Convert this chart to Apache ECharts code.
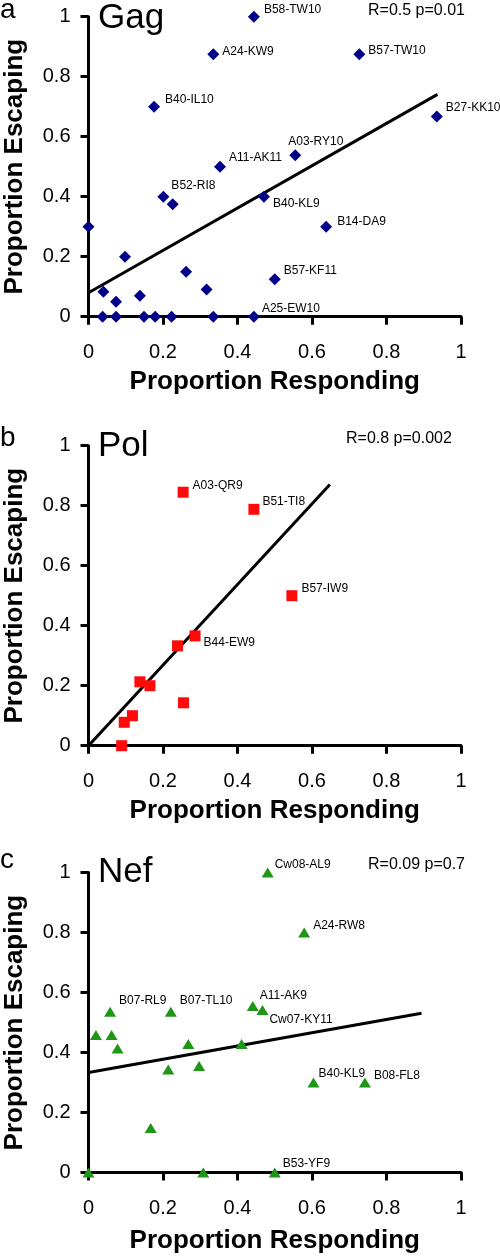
<!DOCTYPE html>
<html><head><meta charset="utf-8">
<script src="https://cdn.jsdelivr.net/npm/echarts@6/dist/echarts.min.js"></script>
<style>html,body{margin:0;padding:0;background:#fff}#c{width:500px;height:1258px}</style>
</head><body><div id="c"></div>
<script>
// ---- data ----
const tickValues = [0, 0.2, 0.4, 0.6, 0.8, 1];
const gagX = [0.444,0.335,0.727,0.176,0.935,0.555,0.353,0.201,0.226,0.471,0.638,0.50,0.444,0,0.098,0.04,0.074,0.138,0.262,0.317,0.038,0.074,0.149,0.179,0.223,0.335];
const gagY = [1.0,0.875,0.875,0.70,0.667,0.538,0.50,0.40,0.375,0.40,0.30,0.125,0,0.30,0.20,0.083,0.05,0.07,0.15,0.091,0,0,0,0,0,0];
const gagNames = ['B58-TW10','A24-KW9','B57-TW10','B40-IL10','B27-KK10','A03-RY10','A11-AK11','B52-RI8','','B40-KL9','B14-DA9','B57-KF11','A25-EW10','','','','','','','','','','','','',''];
const gagFitX = [0, 0.937];
const gagFitY = [0.08, 0.741];
const gagStat = 'R=0.5 p=0.01';

const polX = [0.254,0.444,0.546,0.286,0.239,0.138,0.165,0.255,0.118,0.096,0.089];
const polY = [0.845,0.788,0.50,0.366,0.333,0.213,0.20,0.143,0.10,0.078,0];
const polNames = ['A03-QR9','B51-TI8','B57-IW9','B44-EW9','','','','','','',''];
const polFitX = [0, 0.648];
const polFitY = [0, 0.871];
const polStat = 'R=0.8 p=0.002';

const nefX = [0.481,0.579,0.441,0.467,0.058,0.221,0.604,0.742,0.50,0.02,0.062,0.078,0.268,0.411,0.214,0.297,0.167,0,0.308];
const nefY = [1.0,0.80,0.555,0.542,0.536,0.536,0.30,0.30,0,0.459,0.459,0.414,0.429,0.429,0.344,0.355,0.149,0,0];
const nefNames = ['Cw08-AL9','A24-RW8','A11-AK9','Cw07-KY11','B07-RL9','B07-TL10','B40-KL9','B08-FL8','B53-YF9','','','','','','','','','',''];
const nefFitX = [0, 0.894];
const nefFitY = [0.334, 0.531];
const nefStat = 'R=0.09 p=0.7';

const panelLetters = ['a','b','c'];
const panelTitles = ['Gag','Pol','Nef'];
const xTitle = 'Proportion Responding';
const yTitle = 'Proportion Escaping';

// ---- styling / layout ----
const FONT = 'Liberation Sans, Arial, Helvetica, sans-serif';
const labelOffsets = [
  {'B58-TW10':[1,-7],'A24-KW9':[0,-3],'B57-TW10':[0,-4],'B40-IL10':[2,-7],'B27-KK10':[0,-9],'A03-RY10':[-16,-14],'A11-AK11':[0,-9],'B52-RI8':[-1,-11],'B40-KL9':[0,7],'B14-DA9':[2,-5],'B57-KF11':[0,-9],'A25-EW10':[-1,-8]},
  {'A03-QR9':[1,-7],'B51-TI8':[0,-8],'B57-IW9':[1,-7],'B44-EW9':[0,7]},
  {'Cw08-AL9':[-2,-8],'A24-RW8':[0,-7],'A11-AK9':[-2,-10],'Cw07-KY11':[-2,10],'B07-RL9':[0,-11],'B07-TL10':[0,-11],'B40-KL9':[-4,-9],'B08-FL8':[0,-7],'B53-YF9':[-1,-9]}
];
const grids = [
  {left:88.5, top:16.7, width:372.5, height:300, outerBoundsMode:'none', containLabel:false},
  {left:88.5, top:445.7, width:372.5, height:300, outerBoundsMode:'none', containLabel:false},
  {left:88.5, top:872.6, width:372.5, height:300, outerBoundsMode:'none', containLabel:false}
];
const xNameGaps = [52, 52, 55];
const symbols = ['diamond','rect','triangle'];
const symbolSizes = [[12,12],[11,11],[12,10]];
const colors = ['#000088','#ff0a0a','#1e9616'];
const letterPos = [[0,10],[0,438],[0,860]];
const titlePos = [[98,18],[98,446],[98,872]];
const statPos = [[368,11],[346,439],[368,865]];

const panels = [
  {x:gagX,y:gagY,n:gagNames,fx:gagFitX,fy:gagFitY,stat:gagStat},
  {x:polX,y:polY,n:polNames,fx:polFitX,fy:polFitY,stat:polStat},
  {x:nefX,y:nefY,n:nefNames,fx:nefFitX,fy:nefFitY,stat:nefStat}
];

function axisCommon(){
  return {
    type:'value', min:tickValues[0], max:tickValues[tickValues.length-1], interval:tickValues[1]-tickValues[0],
    axisLine:{show:true, onZero:false, lineStyle:{color:'#000', width:3}},
    axisTick:{show:true, length:8, lineStyle:{color:'#000', width:3}},
    splitLine:{show:false},
    nameLocation:'middle',
    nameTextStyle:{color:'#000', fontSize:26, fontWeight:'bold', fontFamily:FONT}
  };
}

const xAxes = [], yAxes = [], series = [], graphics = [];
panels.forEach((p,i)=>{
  xAxes.push(Object.assign(axisCommon(), {
    gridIndex:i, name:xTitle, nameGap:xNameGaps[i],
    axisLabel:{color:'#000', fontSize:20, fontFamily:FONT, margin:26}
  }));
  yAxes.push(Object.assign(axisCommon(), {
    gridIndex:i, name:yTitle, nameGap:61,
    axisLabel:{color:'#000', fontSize:20, fontFamily:FONT, margin:18}
  }));
  series.push({
    type:'line', xAxisIndex:i, yAxisIndex:i, z:2,
    data:p.fx.map((v,k)=>[v,p.fy[k]]),
    showSymbol:false, symbol:'none', clip:false,
    lineStyle:{color:'#000', width:3}
  });
  series.push({
    type:'scatter', xAxisIndex:i, yAxisIndex:i, z:3, clip:false,
    symbol:symbols[i], symbolSize:symbolSizes[i],
    itemStyle:{color:colors[i], opacity:1},
    data:p.x.map((v,k)=>{
      const name = p.n[k];
      const d = {value:[v,p.y[k]], name:name};
      if(name){
        d.label = {show:true, position:'right', distance:3, formatter:name,
          offset:labelOffsets[i][name]||[0,-7],
          color:'#000', fontSize:12, fontFamily:FONT};
      }
      return d;
    })
  });
  graphics.push({type:'text', x:letterPos[i][0], y:letterPos[i][1],
    style:{text:panelLetters[i], font:'28px '+FONT, fill:'#000', textAlign:'left', textVerticalAlign:'middle'}});
  graphics.push({type:'text', x:titlePos[i][0], y:titlePos[i][1],
    style:{text:panelTitles[i], font:'35px '+FONT, fill:'#000', textAlign:'left', textVerticalAlign:'middle'}});
  graphics.push({type:'text', x:statPos[i][0], y:statPos[i][1],
    style:{text:p.stat, font:'16px '+FONT, fill:'#000', textAlign:'left', textVerticalAlign:'middle'}});
});

const chart = echarts.init(document.getElementById('c'), null, {renderer:'canvas'});
chart.setOption({
  animation:false,
  backgroundColor:'#fff',
  grid:grids,
  xAxis:xAxes,
  yAxis:yAxes,
  series:series,
  graphic:graphics
});
</script>
</body></html>
